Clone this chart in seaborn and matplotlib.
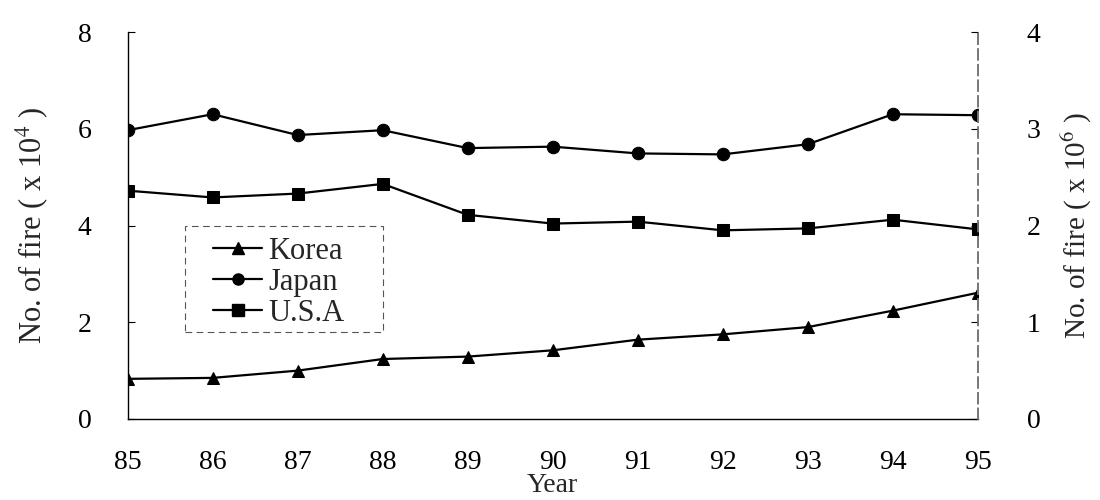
import numpy as np
import pandas as pd
import seaborn as sns
import matplotlib.pyplot as plt
from matplotlib.lines import Line2D
from matplotlib.patches import Rectangle

# data
years = [85, 86, 87, 88, 89, 90, 91, 92, 93, 94, 95]
korea = [0.83, 0.85, 1.00, 1.24, 1.29, 1.42, 1.64, 1.75, 1.90, 2.24, 2.61]   # x 10^4, left axis
japan = [5.97, 6.30, 5.87, 5.97, 5.60, 5.63, 5.49, 5.47, 5.68, 6.30, 6.28]   # x 10^4, left axis
usa = [2.36, 2.29, 2.33, 2.43, 2.11, 2.02, 2.04, 1.95, 1.97, 2.06, 1.96]     # x 10^6, right axis

df = pd.DataFrame({"Year": years, "Korea": korea, "Japan": japan, "U.S.A": usa})

sns.set_theme(style="white")
plt.rcParams["font.family"] = ["Liberation Serif", "DejaVu Serif"]
plt.rcParams["mathtext.fontset"] = "stix"

fig, ax = plt.subplots(figsize=(11, 5), dpi=100)
fig.subplots_adjust(left=0.116, right=0.889, top=0.936, bottom=0.162)
ax2 = ax.twinx()

sns.lineplot(data=df, x="Year", y="Korea", marker="^", markersize=8, color="black",
             linewidth=1.6, markeredgecolor="black", ax=ax)
sns.lineplot(data=df, x="Year", y="Japan", marker="o", markersize=9, color="black",
             linewidth=1.6, markeredgecolor="black", ax=ax)
sns.lineplot(data=df, x="Year", y="U.S.A", marker="s", markersize=8, color="black",
             linewidth=1.6, markeredgecolor="black", ax=ax2)

ax.set_xlim(85, 95)
ax.set_ylim(0, 8)
ax2.set_ylim(0, 4)
ax.set_xticks(years)
ax.set_yticks([0, 2, 4, 6, 8])
ax2.set_yticks([0, 1, 2, 3, 4])

ax.set_xlabel("Year", fontsize=20, labelpad=-1)
ax.set_ylabel("No. of fire ( x 10$^{4}$ )", fontsize=22, labelpad=19)
ax2.set_ylabel("No. of fire ( x 10$^{6}$ )", fontsize=21, labelpad=14)

ax.tick_params(axis="both", direction="in", length=5, width=0.8, colors="black", labelsize=20)
ax.tick_params(axis="y", pad=26)
ax.tick_params(axis="x", pad=22)
ax2.tick_params(axis="y", direction="in", length=5, width=0.8, colors="black", labelsize=20, pad=35)

for a in (ax, ax2):
    a.spines["top"].set_visible(False)
    a.spines["left"].set_color("black")
    a.spines["bottom"].set_color("black")
    a.spines["right"].set_color("#777777")
    a.spines["right"].set_linestyle((0, (6, 3)))
    a.spines["left"].set_linewidth(1.0)
    a.spines["bottom"].set_linewidth(1.0)
ax2.spines["left"].set_visible(False)
ax2.spines["bottom"].set_visible(False)

handles = [
    Line2D([], [], color="black", marker="^", markersize=8, linewidth=1.6),
    Line2D([], [], color="black", marker="o", markersize=8, linewidth=1.6),
    Line2D([], [], color="black", marker="s", markersize=8, linewidth=1.6),
]
leg = ax.legend(handles, ["Korea", "Japan", "U.S.A"], loc="upper left",
                bbox_to_anchor=(0.101, 0.47), borderaxespad=0,
                fontsize=22, handlelength=1.6, handletextpad=0.2, labelspacing=0.06,
                borderpad=0.0, frameon=False)

# dashed legend box
ax.add_patch(Rectangle((0.067, 0.225), 0.233, 0.274, transform=ax.transAxes,
                       fill=False, edgecolor="#555555", linewidth=0.8,
                       linestyle=(0, (6, 4)), zorder=1))

plt.savefig("out.png", dpi=100)
